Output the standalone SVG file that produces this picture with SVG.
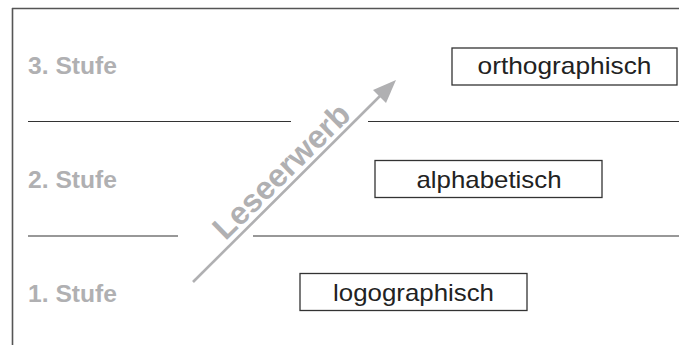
<svg xmlns="http://www.w3.org/2000/svg" width="679" height="345" viewBox="0 0 679 345">
<style>
.frame{stroke:#555;stroke-width:1.6;fill:none}
.sep{stroke:#333;stroke-width:1.2;fill:none}
.box{fill:#fff;stroke:#333;stroke-width:1.3}
.btxt{font-family:"Liberation Sans",Arial,sans-serif;font-size:24px;fill:#222;text-anchor:middle}
.stufe{font-family:"Liberation Sans",Arial,sans-serif;font-size:23px;font-weight:bold;fill:#b0b0b2}
.lese{font-family:"Liberation Sans",Arial,sans-serif;font-size:32px;font-weight:bold;fill:#b0b0b2}
.arrow{stroke:#b0b0b2;stroke-width:2.6;fill:none}
</style>
<g id="frame">
<line class="frame" x1="12" y1="8.5" x2="679" y2="8.5"/>
<line class="frame" x1="12.5" y1="8" x2="12.5" y2="345"/>
</g>
<g id="separators">
<line class="sep" x1="28" y1="121.5" x2="291" y2="121.5"/>
<line class="sep" x1="368" y1="121.5" x2="679" y2="121.5"/>
<line class="sep" x1="28" y1="236" x2="178" y2="236"/>
<line class="sep" x1="253" y1="236" x2="679" y2="236"/>
</g>
<g id="labels">
<text class="stufe" x="28" y="74" textLength="89" lengthAdjust="spacingAndGlyphs">3. Stufe</text>
<text class="stufe" x="28" y="188" textLength="89" lengthAdjust="spacingAndGlyphs">2. Stufe</text>
<text class="stufe" x="28" y="302" textLength="89" lengthAdjust="spacingAndGlyphs">1. Stufe</text>
</g>
<g id="node-orthographisch">
<rect class="box" x="452" y="48" width="225" height="37"/>
<text class="btxt" x="564.5" y="74" textLength="174" lengthAdjust="spacingAndGlyphs">orthographisch</text>
</g>
<g id="node-alphabetisch">
<rect class="box" x="375" y="160.5" width="227" height="37"/>
<text class="btxt" x="489" y="187.5" textLength="145" lengthAdjust="spacingAndGlyphs">alphabetisch</text>
</g>
<g id="node-logographisch">
<rect class="box" x="300" y="273.5" width="227" height="37"/>
<text class="btxt" x="413.5" y="301" textLength="161" lengthAdjust="spacingAndGlyphs">logographisch</text>
</g>
<g id="connectors">
<line class="arrow" x1="193" y1="282" x2="381" y2="95"/>
<path d="M396,80 L386,103 L373,90 Z" fill="#b0b0b2"/>
<text class="lese" transform="translate(289,179) rotate(-44.5)" text-anchor="middle">Leseerwerb</text>
</g>
</svg>
